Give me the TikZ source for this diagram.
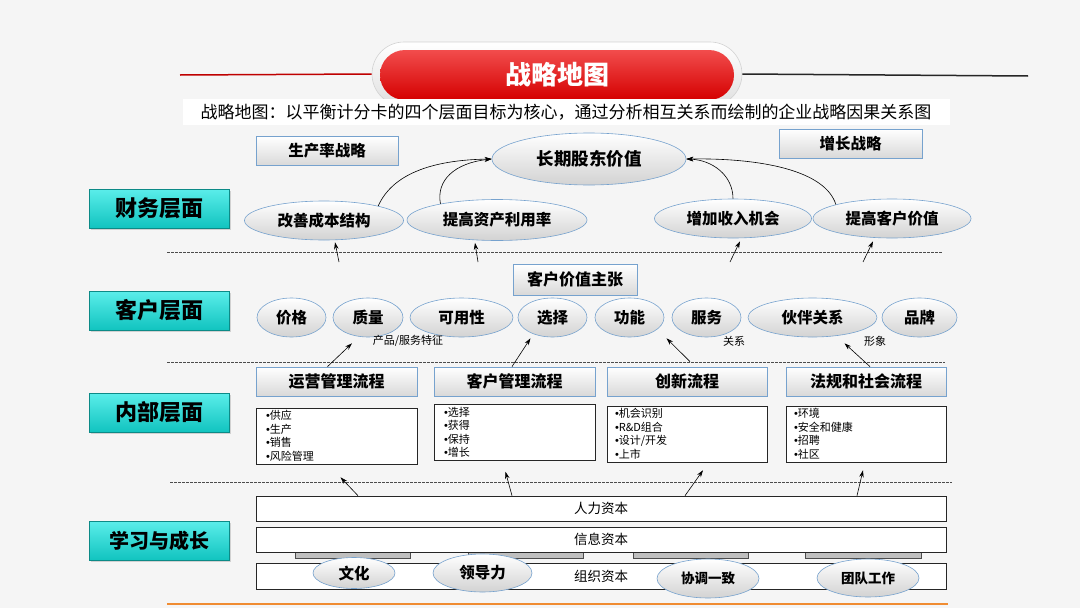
\documentclass[tikz,border=0pt]{standalone}
\usepackage{fontspec}
\setmainfont{Noto Sans CJK SC}
\newfontfamily\dotfont{Liberation Sans}
\newcommand{\itm}{{\dotfont •}}
\usetikzlibrary{positioning,arrows.meta,shapes.geometric,shadows}
\definecolor{lvlcyan}{RGB}{20,230,225}
\definecolor{rimblue}{RGB}{118,162,206}
\definecolor{titlered}{RGB}{236,0,0}
\definecolor{lineorange}{RGB}{240,140,50}
\definecolor{bggray}{RGB}{245,245,245}

\begin{document}
\begin{tikzpicture}[x=1pt,y=-1pt,
  lvl/.style={draw=lvlcyan!60!black, line width=0.4pt, top color=lvlcyan!70!white, middle color=lvlcyan, bottom color=lvlcyan!85!black,
    minimum width=140pt, minimum height=39pt, inner sep=0pt, font=\fontsize{22}{22}\selectfont\bfseries,
    drop shadow={opacity=0.3, shadow xshift=1.5pt, shadow yshift=-1.5pt}},
  goal/.style={ellipse, draw=rimblue, line width=0.6pt, top color=white, bottom color=gray!35, inner sep=0pt,
    minimum height=39pt, font=\fontsize{15.5}{15.5}\selectfont\bfseries},
  tagbox/.style={draw=rimblue, line width=0.8pt, top color=white, bottom color=gray!30, inner sep=0pt,
    minimum height=29pt, font=\fontsize{15.5}{15.5}\selectfont\bfseries},
  listbox/.style={draw=black!85, fill=white, line width=0.6pt, minimum width=161pt, minimum height=56pt,
    text width=141pt, inner xsep=8pt, inner ysep=0pt, align=left, font=\fontsize{11}{13.5}\selectfont},
  capbox/.style={draw=black!85, fill=white, line width=0.6pt, minimum width=690pt, minimum height=25pt,
    inner sep=0pt, font=\fontsize{13.5}{13.5}\selectfont},
  bar/.style={draw=gray!60!black, fill=gray!50, line width=0.3pt},
  sep/.style={dash pattern=on 2.5pt off 1.5pt, line width=0.5pt, black!70},
  arr/.style={-{Stealth[length=7pt,width=4.5pt]}, line width=0.6pt, black},
  note/.style={font=\fontsize{11}{11}\selectfont, inner sep=0pt}
]
\useasboundingbox (0,0) rectangle (1080,608);
\fill[bggray] (0,0) rectangle (1080,608);

% title
\node[draw=gray!35, line width=0.6pt, top color=white, bottom color=gray!25, minimum width=370pt,
  minimum height=64pt, rounded corners=32pt] (ring) at (557,74) {};
\node[top color=titlered!70!white, middle color=titlered, bottom color=titlered!90!black, minimum width=354pt,
  minimum height=50pt, rounded corners=25pt, text=white, font=\fontsize{26}{26}\selectfont\bfseries] (title) at (557,75) {战略地图};
\draw[red!75!black, line width=1.5pt] (180,75) -- (ring.west);
\draw[black!85, line width=1.5pt] (ring.east) -- (1028,76);
\node[fill=white, inner xsep=18pt, inner ysep=5pt, font=\fontsize{17}{17}\selectfont] (sub) at (566,112)
  {战略地图：以平衡计分卡的四个层面目标为核心，通过分析相互关系而绘制的企业战略因果关系图};

% perspectives
\node[lvl] (fin) at (159,208.5) {财务层面};
\node[lvl] (cus) at (159,310.5) {客户层面};
\node[lvl] (int) at (159,412.5) {内部层面};
\node[lvl, font=\fontsize{20}{20}\selectfont\bfseries] (lrn) at (159,540.5) {学习与成长};

% financial
\node[tagbox, minimum width=142pt] (prod) at (327,151) {生产率战略};
\node[tagbox, minimum width=143pt] (grow) at (850.5,143.5) {增长战略};
\node[goal, minimum width=194pt, minimum height=52pt, font=\fontsize{17.5}{17.5}\selectfont\bfseries] (lsv) at (589,159) {长期股东价值};
\node[goal, minimum width=159pt] (gcost) at (324,220.5) {改善成本结构};
\node[goal, minimum width=180pt, minimum height=41pt] (gasset) at (497,220) {提高资产利用率};
\node[goal, minimum width=157pt] (grev) at (733,218.5) {增加收入机会};
\node[goal, minimum width=158pt] (gcust) at (892,218.5) {提高客户价值};
\draw[arr] (gcost.15) .. controls (392,175) and (430,160) .. (lsv.west);
\draw[arr] (gasset.164) .. controls (436,180) and (455,163) .. (lsv.west);
\draw[arr] (grev.north) .. controls (733,175) and (712,160) .. (lsv.east);
\draw[arr] (gcust.166) .. controls (825,170) and (760,158) .. (lsv.east);
\draw[sep] (167,252) -- (943,252);
\coordinate (f1) at (339,262);
\coordinate (f2) at (478,262);
\coordinate (f3) at (730,262);
\coordinate (f4) at (863,262);
\draw[arr] (f1) -- ([xshift=11pt,yshift=-2pt]gcost.south);
\draw[arr] (f2) -- ([xshift=-22pt,yshift=-2pt]gasset.south);
\draw[arr] (f3) -- ([xshift=7pt,yshift=-3pt]grev.south);
\draw[arr] (f4) -- ([xshift=-19pt,yshift=-3pt]gcust.south);

% customer
\node[tagbox, minimum width=124pt, minimum height=31pt, font=\fontsize{16}{16}\selectfont\bfseries] (cvp) at (575,279.5) {客户价值主张};
\node[goal, minimum width=69pt] (cprice) at (291.5,317.5) {价格};
\node[goal, minimum width=70pt] (cqual) at (368,317.5) {质量};
\node[goal, minimum width=103pt] (cavail) at (461.5,317.5) {可用性};
\node[goal, minimum width=69pt] (cchoice) at (552.5,317.5) {选择};
\node[goal, minimum width=69pt] (cfunc) at (629.5,317.5) {功能};
\node[goal, minimum width=69pt] (cserv) at (706.5,317.5) {服务};
\node[goal, minimum width=129pt] (cpart) at (812.5,317.5) {伙伴关系};
\node[goal, minimum width=75pt] (cbrand) at (919.5,317.5) {品牌};
\node[note] (nprod) at (408,341) {产品/服务特征};
\node[note] (nrel) at (734,341) {关系};
\node[note] (nimg) at (875,341) {形象};
\draw[sep] (167,362) -- (945,362);

% internal
\node[tagbox, minimum width=161pt, font=\fontsize{16}{16}\selectfont\bfseries] (pops) at (336.5,381.5) {运营管理流程};
\node[tagbox, minimum width=161pt, font=\fontsize{16}{16}\selectfont\bfseries] (pcus) at (514.5,381.5) {客户管理流程};
\node[tagbox, minimum width=160pt, font=\fontsize{16}{16}\selectfont\bfseries] (pinn) at (687,381.5) {创新流程};
\node[tagbox, minimum width=160pt, font=\fontsize{16}{16}\selectfont\bfseries] (preg) at (866,381.5) {法规和社会流程};
\node[listbox] (lops) at (336.5,436) {\itm{}供应\\\itm{}生产\\\itm{}销售\\\itm{}风险管理};
\node[listbox] (lcus) at (514.5,432.5) {\itm{}选择\\\itm{}获得\\\itm{}保持\\\itm{}增长};
\node[listbox, minimum width=160pt, text width=144pt] (linn) at (687,434) {\itm{}机会识别\\\itm{}R\&D组合\\\itm{}设计/开发\\\itm{}上市};
\node[listbox, minimum width=160pt, text width=144pt] (lreg) at (866,434) {\itm{}环境\\\itm{}安全和健康\\\itm{}招聘\\\itm{}社区};
\draw[arr] ([xshift=-9pt]pops.north) -- ([xshift=-16pt,yshift=-6pt]cqual.south);
\draw[arr] ([xshift=-2.5pt]pcus.north) -- ([xshift=-22pt,yshift=-1pt]cchoice.south);
\draw[arr] ([xshift=3pt,yshift=5pt]pinn.north) -- ([xshift=37pt,yshift=-1pt]cfunc.south);
\draw[arr] ([xshift=4pt]preg.north) -- ([xshift=32pt,yshift=-6pt]cpart.south);
\draw[sep] (170,482) -- (952,482);

% learning and growth
\draw[bar] (295,552.5) rectangle (410,558);
\draw[bar] (468,552.5) rectangle (583,558);
\draw[bar] (633,552.5) rectangle (748,558);
\draw[bar] (805,552.5) rectangle (921,558);
\node[capbox] (hum) at (601,508.5) {人力资本};
\node[capbox] (info) at (601,539.5) {信息资本};
\node[capbox, minimum height=26pt] (org) at (601,576) {组织资本};
\draw[arr] ([xshift=-243pt]hum.north) -- ([xshift=4pt,yshift=-13pt]lops.south);
\draw[arr] ([xshift=-89pt]hum.north) -- ([xshift=-9pt,yshift=-11pt]lcus.south);
\draw[arr] ([xshift=84pt]hum.north) -- ([xshift=16pt,yshift=-8pt]linn.south);
\draw[arr] ([xshift=256pt]hum.north) -- ([xshift=-3pt,yshift=-8pt]lreg.south);
\node[goal, minimum width=82pt, minimum height=31pt] (kcult) at (354,573) {文化};
\node[goal, minimum width=99pt, minimum height=38pt] (klead) at (482.5,573) {领导力};
\node[goal, minimum width=102pt, minimum height=39pt, font=\fontsize{13.5}{13.5}\selectfont\bfseries] (kalign) at (708,578.5) {协调一致};
\node[goal, minimum width=102pt, minimum height=38pt, font=\fontsize{13.5}{13.5}\selectfont\bfseries] (kteam) at (868,578) {团队工作};
\draw[lineorange, line width=2pt] (167,604) -- (948,604);
\end{tikzpicture}
\end{document}
